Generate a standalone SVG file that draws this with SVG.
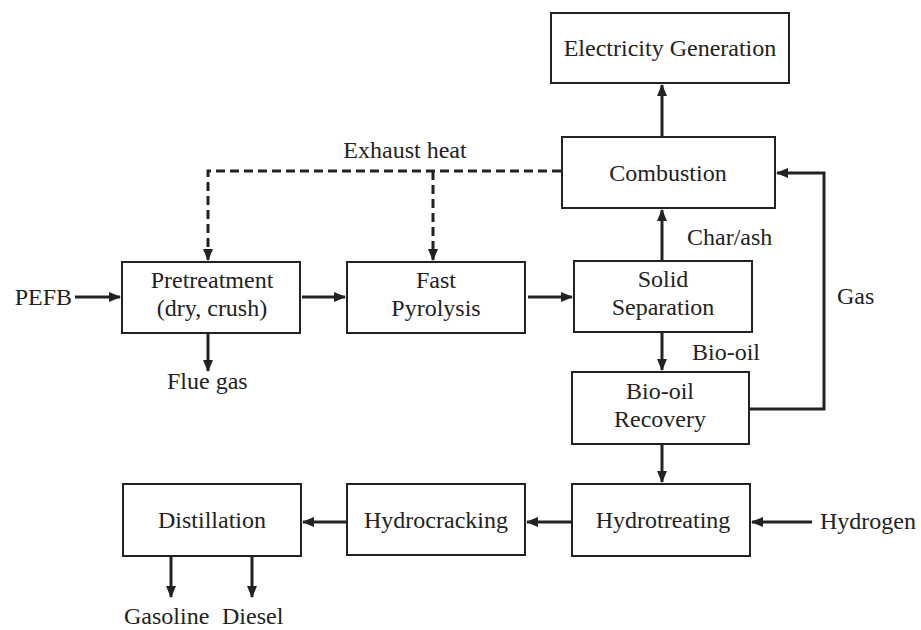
<svg xmlns="http://www.w3.org/2000/svg" width="921" height="630" viewBox="0 0 921 630">
<defs>
<marker id="ah" markerWidth="12" markerHeight="10" refX="11" refY="5" orient="auto" markerUnits="userSpaceOnUse">
<path d="M0,0 L12,5 L0,10 Z" fill="#222"/>
</marker>
<style>
.box{fill:#fff;stroke:#222;stroke-width:2}
.t{font-family:'Liberation Serif','Times New Roman',Times,'DejaVu Serif','Noto Serif',serif;font-size:24px;fill:#222}
.c{text-anchor:middle}
.e{text-anchor:end}
.ln{fill:none;stroke:#222;stroke-width:3}
.d{stroke-dasharray:9,5}
</style>
</defs>
<rect width="921" height="630" fill="#fff"/>
<g id="connectors">
<path class="ln" d="M662,137 V85" marker-end="url(#ah)"/>
<path class="ln d" d="M561,171 H208 V260" marker-end="url(#ah)"/>
<path class="ln d" d="M433,171 V260" marker-end="url(#ah)"/>
<path class="ln" d="M75,297 H120" marker-end="url(#ah)"/>
<path class="ln" d="M302,297 H345" marker-end="url(#ah)"/>
<path class="ln" d="M528,297 H572" marker-end="url(#ah)"/>
<path class="ln" d="M208,333 V371" marker-end="url(#ah)"/>
<path class="ln" d="M662,261 V210" marker-end="url(#ah)"/>
<path class="ln" d="M662,332 V370" marker-end="url(#ah)"/>
<path class="ln" d="M749,409 H824 V173 H777" marker-end="url(#ah)"/>
<path class="ln" d="M662,444 V482" marker-end="url(#ah)"/>
<path class="ln" d="M812,522 H752" marker-end="url(#ah)"/>
<path class="ln" d="M572,522 H527" marker-end="url(#ah)"/>
<path class="ln" d="M347,522 H303" marker-end="url(#ah)"/>
<path class="ln" d="M171,556 V597" marker-end="url(#ah)"/>
<path class="ln" d="M252,556 V597" marker-end="url(#ah)"/>
<text class="t c" x="405" y="158" font-family="Liberation Serif, serif">Exhaust heat</text>
<text class="t e" x="72" y="305">PEFB</text>
<text class="t" x="167" y="389">Flue gas</text>
<text class="t" x="687" y="245">Char/ash</text>
<text class="t" x="692" y="360">Bio-oil</text>
<text class="t" x="837" y="304">Gas</text>
<text class="t" x="820" y="529">Hydrogen</text>
<text class="t" x="124" y="624">Gasoline</text>
<text class="t" x="222" y="624">Diesel</text>
</g>
<g id="electricity">
<rect class="box" x="551" y="13" width="238" height="70"/>
<text class="t c" x="670" y="56">Electricity Generation</text>
</g>
<g id="combustion">
<rect class="box" x="562" y="137" width="213" height="71"/>
<text class="t c" x="668" y="181">Combustion</text>
</g>
<g id="pretreatment">
<rect class="box" x="122" y="262" width="178" height="71"/>
<text class="t c" x="212" y="288">Pretreatment</text>
<text class="t c" x="212" y="316">(dry, crush)</text>
</g>
<g id="pyrolysis">
<rect class="box" x="347" y="262" width="178" height="71"/>
<text class="t c" x="436" y="288">Fast</text>
<text class="t c" x="436" y="316">Pyrolysis</text>
</g>
<g id="separation">
<rect class="box" x="574" y="261" width="178" height="71"/>
<text class="t c" x="663" y="287">Solid</text>
<text class="t c" x="663" y="315">Separation</text>
</g>
<g id="recovery">
<rect class="box" x="572" y="372" width="177" height="72"/>
<text class="t c" x="660" y="399">Bio-oil</text>
<text class="t c" x="660" y="427">Recovery</text>
</g>
<g id="hydrotreating">
<rect class="box" x="572" y="484" width="178" height="72"/>
<text class="t c" x="663" y="528">Hydrotreating</text>
</g>
<g id="hydrocracking">
<rect class="box" x="347" y="484" width="178" height="71"/>
<text class="t c" x="436" y="528">Hydrocracking</text>
</g>
<g id="distillation">
<rect class="box" x="123" y="484" width="178" height="72"/>
<text class="t c" x="212" y="528">Distillation</text>
</g>
</svg>
